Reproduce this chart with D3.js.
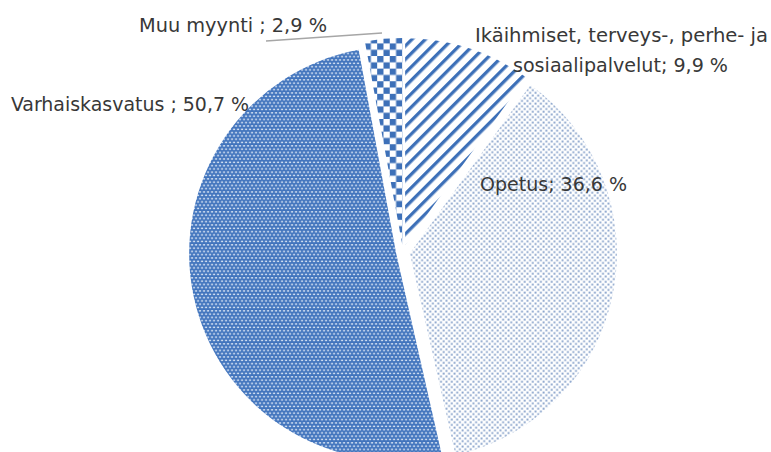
<!DOCTYPE html>
<html>
<head>
<meta charset="utf-8">
<script src="https://cdn.jsdelivr.net/npm/d3@7"></script>
<style>
body { margin:0; background:#fff; }
svg text { font-family:"DejaVu Sans Condensed","DejaVu Sans",sans-serif; font-stretch:condensed; fill:#383838; }
</style>
</head>
<body>
<div id="chart"></div>
<script>
// data
var categories = ["Ikäihmiset, terveys-, perhe- ja sosiaalipalvelut", "Opetus", "Varhaiskasvatus", "Muu myynti"];
var values = [9.9, 36.6, 50.7, 2.9];
var separators = ["; ", "; ", " ; ", " ; "];

var w = 771, h = 452;
var cx = 403, cy = 252, r = 207, explode = 7;

// label layout (baseline, left x, line width)
var labelLayout = [
  [{x:475, y:42, len:293, brk:"perhe- ja "}, {x:513, y:72, len:215}],
  [{x:480, y:191, len:147}],
  [{x:11, y:111, len:238}],
  [{x:139, y:32, len:188}]
];

var svg = d3.select("#chart").append("svg")
  .attr("width", w)
  .attr("height", h);

var defs = svg.append("defs");

// stripes
var p0 = defs.append("pattern").attr("id","pat0").attr("patternUnits","userSpaceOnUse")
  .attr("width",9.5).attr("height",9.5).attr("patternTransform","rotate(45)");
p0.append("rect").attr("width",9.5).attr("height",9.5).attr("fill","#fff");
p0.append("rect").attr("x",0).attr("width",3.3).attr("height",9.5).attr("fill","#3d70b8");

// light dots
var p1 = defs.append("pattern").attr("id","pat1").attr("patternUnits","userSpaceOnUse")
  .attr("width",5.4).attr("height",5.4);
p1.append("rect").attr("width",5.4).attr("height",5.4).attr("fill","#fff");
p1.append("rect").attr("x",0.5).attr("y",0.5).attr("width",1.9).attr("height",1.9).attr("fill","#89a3cb");
p1.append("rect").attr("x",3.2).attr("y",3.2).attr("width",1.9).attr("height",1.9).attr("fill","#89a3cb");

// dense blue
var p2 = defs.append("pattern").attr("id","pat2").attr("patternUnits","userSpaceOnUse")
  .attr("width",4).attr("height",6.6);
p2.append("rect").attr("width",4).attr("height",6.6).attr("fill","#4174bd");
p2.append("rect").attr("x",0.8).attr("y",0.6).attr("width",2.2).attr("height",1.4).attr("fill","#dbe6f5");
p2.append("rect").attr("x",2.8).attr("y",3.9).attr("width",2.2).attr("height",1.4).attr("fill","#dbe6f5");
p2.append("rect").attr("x",-1.2).attr("y",3.9).attr("width",2.2).attr("height",1.4).attr("fill","#dbe6f5");

// checker
var p3 = defs.append("pattern").attr("id","pat3").attr("patternUnits","userSpaceOnUse")
  .attr("width",12.6).attr("height",12.6);
p3.append("rect").attr("width",12.6).attr("height",12.6).attr("fill","#fff");
p3.append("rect").attr("width",6.3).attr("height",6.3).attr("fill","#3d70b8");
p3.append("rect").attr("x",6.3).attr("y",6.3).attr("width",6.3).attr("height",6.3).attr("fill","#3d70b8");

var pie = d3.pie().sort(null).value(function(d){ return d; });
var arcs = pie(values);
var arc = d3.arc().innerRadius(0).outerRadius(r);

svg.append("g")
  .attr("transform","translate(" + cx + "," + cy + ")")
  .selectAll("path")
  .data(arcs)
  .enter()
  .append("path")
  .attr("d", arc)
  .attr("fill", function(d, i){ return "url(#pat" + i + ")"; })
  .attr("transform", function(d){
    var a = (d.startAngle + d.endAngle) / 2;
    return "translate(" + (explode * Math.sin(a)) + "," + (-explode * Math.cos(a)) + ")";
  });

// leader line for small slice
svg.append("line")
  .attr("x1",266).attr("y1",41).attr("x2",382).attr("y2",33)
  .attr("stroke","#a6a6a6").attr("stroke-width",1.5);

var fmt = function(v){ return String(v).replace(".", ",") + " %"; };

categories.forEach(function(c, i){
  var full = c + separators[i] + fmt(values[i]);
  var lay = labelLayout[i];
  var lines = [full];
  if (lay.length > 1) {
    var k = full.indexOf(lay[0].brk) + lay[0].brk.length;
    lines = [full.slice(0, k).trim(), full.slice(k)];
  }
  lines.forEach(function(t, j){
    svg.append("text")
      .attr("x", lay[j].x)
      .attr("y", lay[j].y)
      .attr("font-size", 20)
      .attr("textLength", lay[j].len)
      .attr("lengthAdjust", "spacingAndGlyphs")
      .text(t);
  });
});
</script>
</body>
</html>
